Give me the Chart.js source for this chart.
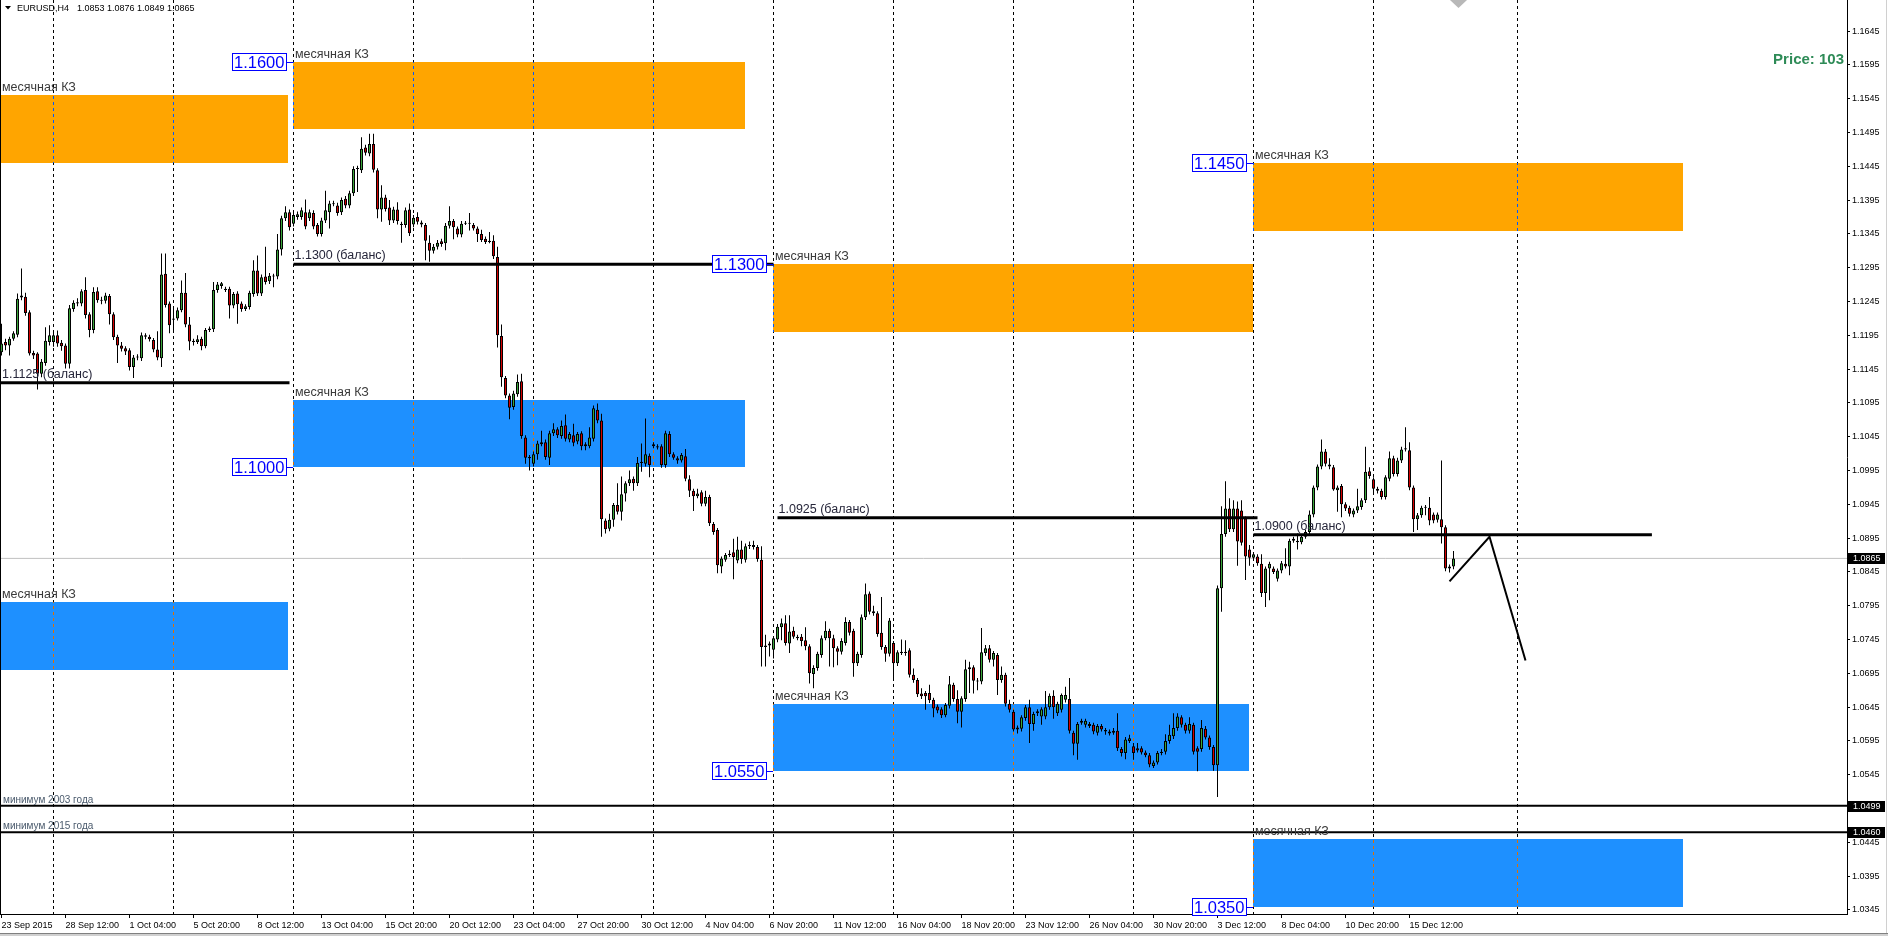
<!DOCTYPE html>
<html>
<head>
<meta charset="utf-8">
<title>EURUSD,H4</title>
<script src="https://cdn.jsdelivr.net/npm/chart.js@4.4.1/dist/chart.umd.min.js"></script>
<style>
  html, body { margin: 0; padding: 0; background: #fff; overflow: hidden; }
  canvas { display: block; }
</style>
</head>
<body>
<canvas id="chart" width="1888" height="936"></canvas>
<script>
// EURUSD H4 bars, 23 Sep 2015 20:00 ... 17 Dec 2015 (one entry per bar)
const opens = [
  1.1170,1.1185,1.1180,1.1190,1.1196,1.1251,1.1252,1.1229,1.1169,1.1168,
  1.1138,1.1154,1.1185,1.1185,1.1195,1.1184,1.1180,1.1153,1.1234,1.1242,
  1.1242,1.1262,1.1226,1.1203,1.1260,1.1247,1.1246,1.1253,1.1226,1.1193,
  1.1180,1.1176,1.1173,1.1148,1.1162,1.1161,1.1195,1.1193,1.1188,1.1174,
  1.1161,1.1286,1.1242,1.1220,1.1220,1.1232,1.1258,1.1211,1.1187,1.1185,
  1.1190,1.1179,1.1203,1.1204,1.1262,1.1268,1.1264,1.1264,1.1239,1.1257,
  1.1242,1.1234,1.1237,1.1256,1.1291,1.1257,1.1282,1.1275,1.1283,1.1282,
  1.1322,1.1368,1.1377,1.1360,1.1370,1.1370,1.1377,1.1368,1.1376,1.1358,
  1.1345,1.1365,1.1377,1.1390,1.1387,1.1377,1.1397,1.1387,1.1405,1.1441,
  1.1439,1.1473,1.1464,1.1478,1.1439,1.1381,1.1399,1.1384,1.1365,1.1381,
  1.1360,1.1358,1.1381,1.1359,1.1370,1.1362,1.1358,1.1332,1.1320,1.1326,
  1.1334,1.1331,1.1357,1.1364,1.1353,1.1344,1.1360,1.1361,1.1358,1.1353,
  1.1345,1.1338,1.1333,1.1335,1.1311,1.1194,1.1132,1.1106,1.1089,1.1108,
  1.1127,1.1044,1.1015,1.1005,1.1019,1.1034,1.1037,1.1014,1.1050,1.1056,
  1.1046,1.1062,1.1041,1.1047,1.1038,1.1050,1.1031,1.1031,1.1042,1.1085,
  1.1069,1.0921,1.0909,1.0922,1.0944,1.0934,1.0961,1.0976,1.0983,1.0976,
  1.1006,1.1005,1.1017,1.1031,1.1031,1.1031,1.1003,1.1049,1.1019,1.1013,
  1.1010,1.1016,1.0982,1.0965,1.0957,1.0963,1.0946,1.0956,1.0916,1.0907,
  1.0853,1.0863,1.0870,1.0874,1.0862,1.0878,1.0863,1.0883,1.0885,1.0882,
  1.0863,1.0734,1.0736,1.0730,1.0745,1.0763,1.0769,1.0739,1.0758,1.0749,
  1.0749,1.0744,1.0735,1.0694,1.0703,1.0722,1.0747,1.0758,1.0747,1.0732,
  1.0727,1.0740,1.0771,1.0758,1.0710,1.0722,1.0778,1.0813,1.0787,1.0784,
  1.0755,1.0734,1.0724,1.0740,1.0710,1.0725,1.0727,1.0729,1.0693,1.0685,
  1.0665,1.0666,1.0666,1.0656,1.0646,1.0642,1.0633,1.0647,1.0678,1.0657,
  1.0638,1.0657,1.0701,1.0704,1.0684,1.0683,1.0725,1.0732,1.0715,1.0722,
  1.0685,1.0693,1.0650,1.0638,1.0612,1.0613,1.0629,1.0645,1.0620,1.0636,
  1.0631,1.0631,1.0645,1.0662,1.0636,1.0641,1.0656,1.0657,1.0607,1.0591,
  1.0622,1.0619,1.0620,1.0619,1.0607,1.0617,1.0611,1.0609,1.0607,1.0610,
  1.0583,1.0577,1.0595,1.0587,1.0584,1.0584,1.0578,1.0574,1.0558,1.0563,
  1.0577,1.0579,1.0595,1.0602,1.0614,1.0630,1.0619,1.0610,1.0619,1.0584,
  1.0583,1.0613,1.0600,1.0586,1.0559,1.0821,1.0901,1.0939,1.0908,1.0939,
  1.0936,1.0924,1.0878,1.0866,1.0868,1.0857,1.0814,1.0850,1.0850,1.0835,
  1.0847,1.0857,1.0853,1.0891,1.0891,1.0889,1.0897,1.0904,1.0930,1.0970,
  1.1001,1.1023,1.1004,1.1000,1.0966,1.0972,1.0945,1.0940,1.0930,1.0936,
  1.0941,1.0951,1.0994,1.0982,1.0968,1.0965,1.0956,1.0983,1.1013,1.0990,
  1.1010,1.1026,1.1025,1.0970,1.0923,1.0929,1.0940,1.0940,1.0930,1.0922,
  1.0923,1.0911,1.0850,1.0853
];
const highs = [
  1.1212,1.1190,1.1193,1.1201,1.1257,1.1294,1.1258,1.1232,1.1172,1.1170,
  1.1160,1.1207,1.1210,1.1200,1.1202,1.1188,1.1183,1.1240,1.1247,1.1250,
  1.1263,1.1281,1.1229,1.1266,1.1266,1.1252,1.1258,1.1256,1.1229,1.1196,
  1.1185,1.1179,1.1176,1.1166,1.1167,1.1199,1.1198,1.1196,1.1191,1.1201,
  1.1316,1.1316,1.1245,1.1234,1.1236,1.1276,1.1287,1.1222,1.1190,1.1195,
  1.1193,1.1206,1.1208,1.1274,1.1274,1.1274,1.1267,1.1267,1.1259,1.1260,
  1.1245,1.1241,1.1261,1.1306,1.1313,1.1285,1.1326,1.1287,1.1286,1.1345,
  1.1372,1.1386,1.1381,1.1377,1.1378,1.1384,1.1396,1.1381,1.1380,1.1361,
  1.1369,1.1409,1.1394,1.1394,1.1391,1.1399,1.1401,1.1409,1.1445,1.1446,
  1.1488,1.1477,1.1493,1.1493,1.1442,1.1417,1.1403,1.1395,1.1385,1.1392,
  1.1363,1.1384,1.1390,1.1373,1.1377,1.1365,1.1361,1.1343,1.1330,1.1336,
  1.1338,1.1361,1.1386,1.1367,1.1356,1.1364,1.1364,1.1376,1.1361,1.1356,
  1.1351,1.1341,1.1348,1.1343,1.1326,1.1211,1.1135,1.1109,1.1113,1.1137,
  1.1138,1.1047,1.1018,1.1023,1.1039,1.1054,1.1041,1.1054,1.1065,1.1059,
  1.1069,1.1078,1.1052,1.1064,1.1052,1.1053,1.1037,1.1059,1.1091,1.1094,
  1.1079,1.0924,1.0931,1.0947,1.0976,1.0986,1.0979,1.0995,1.0986,1.1015,
  1.1035,1.1072,1.1020,1.1037,1.1034,1.1034,1.1054,1.1053,1.1022,1.1016,
  1.1021,1.1027,1.0988,1.0968,1.0968,1.0966,1.0965,1.0959,1.0919,1.0910,
  1.0868,1.0873,1.0877,1.0894,1.0897,1.0891,1.0887,1.0890,1.0891,1.0885,
  1.0883,1.0752,1.0742,1.0750,1.0768,1.0776,1.0781,1.0781,1.0764,1.0752,
  1.0753,1.0763,1.0738,1.0707,1.0727,1.0751,1.0772,1.0761,1.0752,1.0735,
  1.0747,1.0778,1.0774,1.0761,1.0727,1.0782,1.0828,1.0816,1.0795,1.0787,
  1.0808,1.0737,1.0777,1.0743,1.0729,1.0745,1.0744,1.0732,1.0702,1.0688,
  1.0673,1.0669,1.0678,1.0659,1.0649,1.0645,1.0651,1.0691,1.0681,1.0670,
  1.0661,1.0715,1.0712,1.0707,1.0688,1.0762,1.0737,1.0737,1.0728,1.0725,
  1.0705,1.0696,1.0656,1.0641,1.0618,1.0633,1.0648,1.0656,1.0638,1.0642,
  1.0645,1.0669,1.0665,1.0670,1.0653,1.0665,1.0675,1.0688,1.0610,1.0623,
  1.0628,1.0628,1.0623,1.0622,1.0620,1.0620,1.0614,1.0612,1.0614,1.0636,
  1.0586,1.0601,1.0604,1.0592,1.0592,1.0587,1.0581,1.0577,1.0566,1.0580,
  1.0583,1.0605,1.0619,1.0636,1.0636,1.0633,1.0622,1.0630,1.0622,1.0587,
  1.0626,1.0617,1.0603,1.0589,1.0825,1.0942,1.0979,1.0954,1.0951,1.0949,
  1.0951,1.0927,1.0885,1.0874,1.0871,1.0871,1.0853,1.0860,1.0853,1.0850,
  1.0861,1.0880,1.0894,1.0897,1.0902,1.0900,1.0907,1.0936,1.0973,1.1004,
  1.1041,1.1027,1.1013,1.1003,1.0973,1.0975,1.0948,1.0943,1.0939,1.0968,
  1.0954,1.1030,1.1000,1.0985,1.0971,1.0968,1.0988,1.1023,1.1017,1.1014,
  1.1030,1.1059,1.1037,1.0973,1.0932,1.0943,1.0944,1.0956,1.0933,1.0933,
  1.1010,1.0914,1.0856,1.0876
];
const lows = [
  1.1165,1.1173,1.1165,1.1187,1.1192,1.1247,1.1224,1.1165,1.1160,1.1115,
  1.1133,1.1150,1.1180,1.1178,1.1178,1.1172,1.1146,1.1146,1.1230,1.1238,
  1.1238,1.1220,1.1192,1.1198,1.1243,1.1241,1.1242,1.1211,1.1188,1.1154,
  1.1171,1.1166,1.1143,1.1132,1.1158,1.1157,1.1189,1.1186,1.1170,1.1158,
  1.1148,1.1236,1.1198,1.1200,1.1217,1.1229,1.1207,1.1173,1.1180,1.1182,
  1.1173,1.1176,1.1200,1.1200,1.1258,1.1264,1.1259,1.1220,1.1235,1.1212,
  1.1230,1.1231,1.1233,1.1252,1.1253,1.1253,1.1270,1.1271,1.1266,1.1278,
  1.1313,1.1364,1.1350,1.1356,1.1366,1.1366,1.1352,1.1364,1.1352,1.1341,
  1.1341,1.1361,1.1353,1.1386,1.1372,1.1373,1.1383,1.1383,1.1401,1.1407,
  1.1435,1.1461,1.1460,1.1436,1.1368,1.1363,1.1378,1.1358,1.1361,1.1359,
  1.1332,1.1354,1.1342,1.1355,1.1359,1.1355,1.1306,1.1304,1.1316,1.1322,
  1.1326,1.1321,1.1353,1.1337,1.1340,1.1340,1.1358,1.1350,1.1350,1.1333,
  1.1333,1.1330,1.1331,1.1308,1.1177,1.1119,1.1102,1.1071,1.1085,1.1104,
  1.1042,1.1005,1.0995,1.1001,1.1011,1.1031,1.1011,1.1003,1.1046,1.1043,
  1.1042,1.1038,1.1037,1.1031,1.1034,1.1025,1.1025,1.1028,1.1038,1.1065,
  1.0897,1.0902,1.0905,1.0912,1.0930,1.0921,1.0949,1.0972,1.0965,1.0972,
  1.0993,1.1001,1.0985,1.1028,1.1026,1.0999,1.0999,1.1015,1.1011,1.1005,
  1.1007,1.0979,1.0956,1.0935,1.0954,1.0942,1.0942,1.0913,1.0900,1.0843,
  1.0843,1.0860,1.0867,1.0834,1.0858,1.0857,1.0859,1.0879,1.0878,1.0860,
  1.0705,1.0705,1.0720,1.0717,1.0741,1.0744,1.0736,1.0725,1.0746,1.0744,
  1.0735,1.0729,1.0680,1.0673,1.0699,1.0718,1.0744,1.0705,1.0704,1.0707,
  1.0723,1.0736,1.0751,1.0690,1.0706,1.0718,1.0774,1.0782,1.0780,1.0749,
  1.0730,1.0712,1.0720,1.0685,1.0706,1.0722,1.0721,1.0689,1.0681,1.0660,
  1.0657,1.0641,1.0651,1.0630,1.0636,1.0629,1.0630,1.0643,1.0653,1.0621,
  1.0615,1.0653,1.0666,1.0665,1.0670,1.0679,1.0721,1.0711,1.0705,1.0663,
  1.0681,1.0646,1.0637,1.0609,1.0606,1.0609,1.0625,1.0592,1.0610,1.0632,
  1.0619,1.0627,1.0641,1.0628,1.0632,1.0637,1.0652,1.0606,1.0574,1.0567,
  1.0619,1.0615,1.0614,1.0605,1.0603,1.0609,1.0604,1.0603,1.0604,1.0580,
  1.0572,1.0568,1.0592,1.0567,1.0578,1.0575,1.0571,1.0556,1.0555,1.0560,
  1.0574,1.0575,1.0591,1.0598,1.0610,1.0615,1.0606,1.0606,1.0575,1.0550,
  1.0579,1.0597,1.0582,1.0551,1.0512,1.0786,1.0897,1.0904,1.0904,1.0854,
  1.0884,1.0833,1.0854,1.0862,1.0854,1.0808,1.0793,1.0803,1.0842,1.0831,
  1.0843,1.0850,1.0840,1.0888,1.0878,1.0886,1.0894,1.0900,1.0926,1.0966,
  1.0997,1.1001,1.0997,1.0965,1.0934,1.0926,1.0935,1.0927,1.0926,1.0932,
  1.0937,1.0947,1.0983,1.0960,1.0961,1.0952,1.0952,1.0979,1.0986,1.0986,
  1.1006,1.1023,1.0966,1.0904,1.0907,1.0925,1.0929,1.0914,1.0917,1.0918,
  1.0887,1.0846,1.0844,1.0849
];
const closes = [
  1.1183,1.1180,1.1190,1.1198,1.1249,1.1254,1.1228,1.1168,1.1165,1.1138,
  1.1156,1.1187,1.1195,1.1195,1.1183,1.1179,1.1153,1.1235,1.1243,1.1244,
  1.1260,1.1225,1.1203,1.1259,1.1247,1.1246,1.1254,1.1226,1.1192,1.1180,
  1.1175,1.1171,1.1148,1.1162,1.1163,1.1195,1.1193,1.1189,1.1174,1.1162,
  1.1285,1.1240,1.1210,1.1218,1.1232,1.1258,1.1211,1.1186,1.1185,1.1189,
  1.1179,1.1203,1.1205,1.1262,1.1270,1.1272,1.1262,1.1239,1.1256,1.1241,
  1.1234,1.1238,1.1258,1.1291,1.1257,1.1281,1.1274,1.1283,1.1282,1.1322,
  1.1368,1.1377,1.1355,1.1373,1.1374,1.1380,1.1356,1.1377,1.1356,1.1345,
  1.1365,1.1380,1.1390,1.1389,1.1376,1.1395,1.1387,1.1405,1.1441,1.1442,
  1.1471,1.1465,1.1478,1.1440,1.1381,1.1399,1.1382,1.1365,1.1381,1.1364,
  1.1358,1.1380,1.1346,1.1369,1.1363,1.1359,1.1335,1.1320,1.1326,1.1332,
  1.1330,1.1357,1.1364,1.1355,1.1344,1.1360,1.1361,1.1360,1.1353,1.1345,
  1.1336,1.1333,1.1335,1.1312,1.1195,1.1133,1.1106,1.1088,1.1109,1.1126,
  1.1046,1.1014,1.1013,1.1019,1.1035,1.1037,1.1015,1.1050,1.1056,1.1047,
  1.1061,1.1042,1.1049,1.1036,1.1049,1.1031,1.1034,1.1044,1.1087,1.1069,
  1.0923,1.0908,1.0922,1.0944,1.0934,1.0960,1.0976,1.0982,1.0976,1.1006,
  1.1008,1.1019,1.1003,1.1034,1.1029,1.1003,1.1050,1.1019,1.1014,1.1010,
  1.1018,1.0983,1.0965,1.0957,1.0961,1.0946,1.0956,1.0917,1.0904,1.0855,
  1.0865,1.0870,1.0872,1.0867,1.0878,1.0864,1.0883,1.0885,1.0882,1.0864,
  1.0734,1.0736,1.0739,1.0747,1.0764,1.0769,1.0740,1.0757,1.0749,1.0747,
  1.0743,1.0735,1.0695,1.0703,1.0724,1.0747,1.0758,1.0747,1.0732,1.0727,
  1.0743,1.0771,1.0755,1.0710,1.0724,1.0778,1.0812,1.0786,1.0784,1.0753,
  1.0734,1.0724,1.0773,1.0710,1.0726,1.0727,1.0725,1.0693,1.0685,1.0664,
  1.0661,1.0661,1.0655,1.0643,1.0640,1.0633,1.0648,1.0679,1.0657,1.0638,
  1.0658,1.0701,1.0704,1.0684,1.0683,1.0726,1.0732,1.0715,1.0725,1.0685,
  1.0693,1.0650,1.0641,1.0612,1.0615,1.0630,1.0645,1.0620,1.0635,1.0639,
  1.0642,1.0645,1.0662,1.0645,1.0650,1.0663,1.0663,1.0610,1.0591,1.0620,
  1.0625,1.0625,1.0617,1.0609,1.0617,1.0612,1.0609,1.0606,1.0610,1.0584,
  1.0577,1.0597,1.0599,1.0577,1.0581,1.0578,1.0574,1.0560,1.0563,1.0577,
  1.0579,1.0595,1.0604,1.0614,1.0631,1.0619,1.0610,1.0620,1.0579,1.0579,
  1.0614,1.0600,1.0586,1.0559,1.0821,1.0901,1.0939,1.0908,1.0939,1.0890,
  1.0888,1.0868,1.0866,1.0871,1.0858,1.0814,1.0850,1.0857,1.0845,1.0847,
  1.0858,1.0853,1.0891,1.0894,1.0889,1.0897,1.0904,1.0930,1.0970,1.1001,
  1.1023,1.1005,1.1001,1.0967,1.0970,1.0945,1.0939,1.0931,1.0936,1.0942,
  1.0951,1.0993,1.0987,1.0968,1.0965,1.0956,1.0985,1.1013,1.0990,1.1010,
  1.1026,1.1028,1.0970,1.0923,1.0929,1.0940,1.0941,1.0921,1.0921,1.0930,
  1.0911,1.0850,1.0853,1.0865
];

// time axis: labelled bars (every 16th bar) and week starts (Monday 00:00)
const timeBars = [0,16,32,48,64,80,96,112,128,144,160,176,192,208,224,240,256,272,288,304,320,336,352];
const timeLabels = ['23 Sep 2015','28 Sep 12:00','1 Oct 04:00','5 Oct 20:00','8 Oct 12:00','13 Oct 04:00',
  '15 Oct 20:00','20 Oct 12:00','23 Oct 04:00','27 Oct 20:00','30 Oct 12:00','4 Nov 04:00','6 Nov 20:00',
  '11 Nov 12:00','16 Nov 04:00','18 Nov 20:00','23 Nov 12:00','26 Nov 04:00','30 Nov 20:00','3 Dec 12:00',
  '8 Dec 04:00','10 Dec 20:00','15 Dec 12:00'];
const weekBars = [13,43,73,103,133,163,193,223,253,283,313,343,379];

// price axis
const priceTicks = [1.0345,1.0395,1.0445,1.0495,1.0545,1.0595,1.0645,1.0695,1.0745,1.0795,1.0845,1.0895,
  1.0945,1.0995,1.1045,1.1095,1.1145,1.1195,1.1245,1.1295,1.1345,1.1395,1.1445,1.1495,1.1545,1.1595,1.1645];

// monthly zones ("месячная КЗ"), in bars and prices
const zoneStart = [-1, 73, 73, -1, 193, 193, 313, 313];
const zoneEnd   = [71.7, 186, 186, 71.7, 313, 312, 420.5, 420.5];
const zoneLow   = [1.1450, 1.1500, 1.1000, 1.0700, 1.1200, 1.0550, 1.1350, 1.0350];
const zoneHigh  = [1.1550, 1.1600, 1.1100, 1.0800, 1.1300, 1.0650, 1.1450, 1.0450];
const zoneKind  = ['sell', 'sell', 'buy', 'buy', 'sell', 'buy', 'sell', 'buy'];
const zoneMark  = [null, 1.1600, 1.1000, null, 1.1300, 1.0550, 1.1450, 1.0350];
const zoneCaption = 'месячная КЗ';

// balance levels
const levelPrice = [1.1125, 1.1300, 1.0925, 1.0900];
const levelFrom  = [-0.375, 73, 194, 313];
const levelTo    = [72, 193, 314, 412.6];
const levelText  = ['1.1125 (баланс)', '1.1300 (баланс)', '1.0925 (баланс)', '1.0900 (баланс)'];

// yearly lows
const lowPrice = [1.0499, 1.0460];
const lowText  = ['минимум 2003 года', 'минимум 2015 года'];

// forecast path
const pathBars  = [362, 372, 381];
const pathPrice = [1.0831, 1.0897, 1.0714];

const lastPrice = closes[closes.length - 1];
const xMin = -0.375, xMax = 461.375;
const FONT = '"Liberation Sans", Arial, sans-serif';

Chart.defaults.font.family = FONT;

const wickData = opens.map((o, i) => ({ x: i, y: [lows[i], highs[i]] }));
const bodyData = opens.map((o, i) => ({ x: i, y: [Math.min(o, closes[i]), Math.max(o, closes[i])] }));
const bodyColors = opens.map((o, i) => closes[i] >= o ? '#3aa63a' : '#d40000');

function hline(price, from, to, width, color, order) {
    return {
        type: 'line', order: order,
        data: [{ x: from, y: price }, { x: to, y: price }],
        borderColor: color, borderWidth: width, pointRadius: 0, tension: 0, fill: false
    };
}

const datasets = [
    // balance levels and forecast on top
    ...levelPrice.map((p, k) => hline(p, levelFrom[k], levelTo[k], 3, '#000', 0)),
    ...lowPrice.map(p => hline(p, xMin, xMax, 2, '#000', 0)),
    {
        type: 'line', order: 0,
        data: pathBars.map((b, k) => ({ x: b, y: pathPrice[k] })),
        borderColor: '#000', borderWidth: 2, pointRadius: 0, tension: 0, fill: false
    },
    {
        type: 'bar', order: 1, data: bodyData, grouped: false,
        backgroundColor: bodyColors, borderColor: '#000', borderWidth: 1, borderSkipped: false,
        barPercentage: 1, categoryPercentage: 1, maxBarThickness: 3, minBarLength: 1, inflateAmount: 0
    },
    {
        type: 'bar', order: 2, data: wickData, grouped: false,
        backgroundColor: '#000', borderWidth: 0,
        barPercentage: 1, categoryPercentage: 1, maxBarThickness: 1, minBarLength: 1, inflateAmount: 0
    },
    hline(lastPrice, xMin, xMax, 1, '#c0c0c0', 3)
];

// zones, week separators, captions and price marks
const mtObjects = {
    id: 'mtObjects',
    beforeDraw(chart) {
        // opaque background so the inverted grid shows black on white
        const { ctx } = chart;
        ctx.save();
        ctx.fillStyle = '#fff';
        ctx.fillRect(0, 0, chart.width, chart.height);
        ctx.restore();
    },
    beforeDatasetsDraw(chart) {
        const { ctx, chartArea: a, scales: { x, y } } = chart;
        ctx.save();
        ctx.beginPath();
        ctx.rect(a.left, a.top, a.right - a.left, a.bottom - a.top);
        ctx.clip();
        zoneLow.forEach((lo, k) => {
            const x0 = Math.floor(x.getPixelForValue(zoneStart[k]));
            const x1 = Math.floor(x.getPixelForValue(zoneEnd[k]));
            const y0 = Math.round(y.getPixelForValue(zoneHigh[k]));
            const y1 = Math.round(y.getPixelForValue(lo));
            ctx.fillStyle = zoneKind[k] === 'sell' ? '#ffa500' : '#1e90ff';
            ctx.fillRect(x0, y0, x1 - x0, y1 - y0);
        });
        // grid is drawn inverted, so it turns blue on orange and orange on blue
        ctx.globalCompositeOperation = 'difference';
        ctx.strokeStyle = '#fff';
        ctx.lineWidth = 1;
        ctx.setLineDash([3, 3]);
        weekBars.forEach(b => {
            const px = Math.floor(x.getPixelForValue(b)) + 0.5;
            ctx.beginPath();
            ctx.moveTo(px, a.top);
            ctx.lineTo(px, a.bottom);
            ctx.stroke();
        });
        ctx.restore();
    },
    afterDatasetsDraw(chart) {
        const { ctx, chartArea: a, scales: { x, y } } = chart;
        ctx.save();
        ctx.textBaseline = 'alphabetic';
        ctx.textAlign = 'left';

        // zone captions
        ctx.font = '12.5px ' + FONT;
        ctx.fillStyle = '#3a3a3a';
        zoneLow.forEach((lo, k) => {
            const x0 = Math.max(Math.floor(x.getPixelForValue(zoneStart[k])), a.left);
            ctx.fillText(zoneCaption, x0 + 2, Math.round(y.getPixelForValue(zoneHigh[k])) - 4);
        });

        // level captions
        ctx.fillStyle = '#26263a';
        levelPrice.forEach((p, k) => {
            const x0 = Math.max(x.getPixelForValue(levelFrom[k]), a.left + 1);
            ctx.fillText(levelText[k], x0 + 1, Math.round(y.getPixelForValue(p)) - 5);
        });

        // yearly low captions
        ctx.font = '10px ' + FONT;
        ctx.fillStyle = '#4a5a6c';
        lowPrice.forEach((p, k) => {
            ctx.fillText(lowText[k], a.left + 3, Math.round(y.getPixelForValue(p)) - 3);
        });

        // blue price marks on the zone edges
        ctx.font = '16.5px ' + FONT;
        ctx.textBaseline = 'middle';
        zoneMark.forEach((p, k) => {
            if (p === null) return;
            const label = p.toFixed(4);
            const zx = Math.floor(x.getPixelForValue(zoneStart[k]));
            const py = Math.round(y.getPixelForValue(p));
            const w = Math.ceil(ctx.measureText(label).width) + 4;
            const bx = zx - 6 - w;
            ctx.strokeStyle = '#0000ff';
            ctx.lineWidth = 1;
            ctx.beginPath();
            ctx.moveTo(zx - 6, py + 0.5);
            ctx.lineTo(zx, py + 0.5);
            ctx.stroke();
            ctx.fillStyle = '#fff';
            ctx.fillRect(bx, py - 9, w, 18);
            ctx.strokeRect(bx + 0.5, py - 8.5, w - 1, 17);
            ctx.fillStyle = '#0000ff';
            ctx.fillText(label, bx + 2, py + 1);
        });

        // header
        ctx.fillStyle = '#000';
        ctx.beginPath();
        ctx.moveTo(5, 6); ctx.lineTo(11, 6); ctx.lineTo(8, 9.5); ctx.closePath();
        ctx.fill();
        const n = closes.length - 1;
        ctx.font = '9px ' + FONT;
        ctx.textBaseline = 'alphabetic';
        ctx.fillText('EURUSD,H4', 17, 11);
        ctx.fillText([opens[n], highs[n], lows[n], closes[n]].map(v => v.toFixed(4)).join(' '), 77, 11);

        ctx.font = 'bold 15px ' + FONT;
        ctx.fillStyle = '#2e8b57';
        ctx.textAlign = 'right';
        ctx.fillText('Price: 103', a.right - 3, 64);

        ctx.fillStyle = '#b8b8b8';
        ctx.beginPath();
        ctx.moveTo(1450, 0); ctx.lineTo(1467, 0); ctx.lineTo(1458.5, 8); ctx.closePath();
        ctx.fill();
        ctx.restore();
    },
    afterDraw(chart) {
        const { ctx, chartArea: a, scales: { y } } = chart;
        ctx.save();
        ctx.font = '9px ' + FONT;
        ctx.textBaseline = 'middle';
        ctx.textAlign = 'left';
        [lastPrice, ...lowPrice].forEach(p => {
            const py = Math.round(y.getPixelForValue(p));
            ctx.fillStyle = '#000';
            ctx.fillRect(a.right + 1, py - 5, 37, 11);
            ctx.fillStyle = '#fff';
            ctx.fillText(p.toFixed(4), a.right + 6, py + 0.5);
        });
        ctx.fillStyle = '#000';
        ctx.fillRect(0, 0, 1, a.bottom);
        ctx.fillStyle = '#808080';
        ctx.fillRect(0, 933, chart.width, 1);
        ctx.fillStyle = '#d0d0d0';
        ctx.fillRect(0, 934, chart.width, 2);
        ctx.fillRect(1886, 0, 1, 933);
        ctx.restore();
    }
};

const ctx = document.getElementById('chart').getContext('2d');
new Chart(ctx, {
    type: 'bar',
    data: { datasets },
    options: {
        responsive: false,
        animation: false,
        devicePixelRatio: 1,
        layout: { padding: 0 },
        events: [],
        plugins: { legend: { display: false }, tooltip: { enabled: false } },
        scales: {
            x: {
                type: 'linear', position: 'bottom', min: xMin, max: xMax, offset: false,
                grid: { drawOnChartArea: false, offset: false, tickLength: 4, color: '#000' },
                border: { display: true, color: '#000', width: 1 },
                afterBuildTicks: s => { s.ticks = timeBars.map(v => ({ value: v })); },
                afterFit: s => {
                    s.height = 22;
                    s.paddingLeft = 0; s.paddingRight = 0; s.paddingTop = 0; s.paddingBottom = 0;
                },
                ticks: {
                    autoSkip: false, maxRotation: 0, minRotation: 0, align: 'start', padding: 2,
                    color: '#000', font: { family: FONT, size: 9 },
                    callback: (v, i) => timeLabels[i]
                }
            },
            y: {
                type: 'linear', position: 'right', min: 1.0339, max: 1.1691,
                grid: { drawOnChartArea: false, tickLength: 3, color: '#000' },
                border: { display: true, color: '#000', width: 1 },
                afterBuildTicks: s => { s.ticks = priceTicks.map(v => ({ value: v })); },
                afterFit: s => {
                    s.width = 41;
                    s.paddingLeft = 0; s.paddingRight = 0; s.paddingTop = 0; s.paddingBottom = 0;
                },
                ticks: {
                    autoSkip: false, padding: 2, color: '#000', font: { family: FONT, size: 9 },
                    callback: v => v.toFixed(4)
                }
            }
        }
    },
    plugins: [mtObjects]
});
</script>
</body>
</html>
